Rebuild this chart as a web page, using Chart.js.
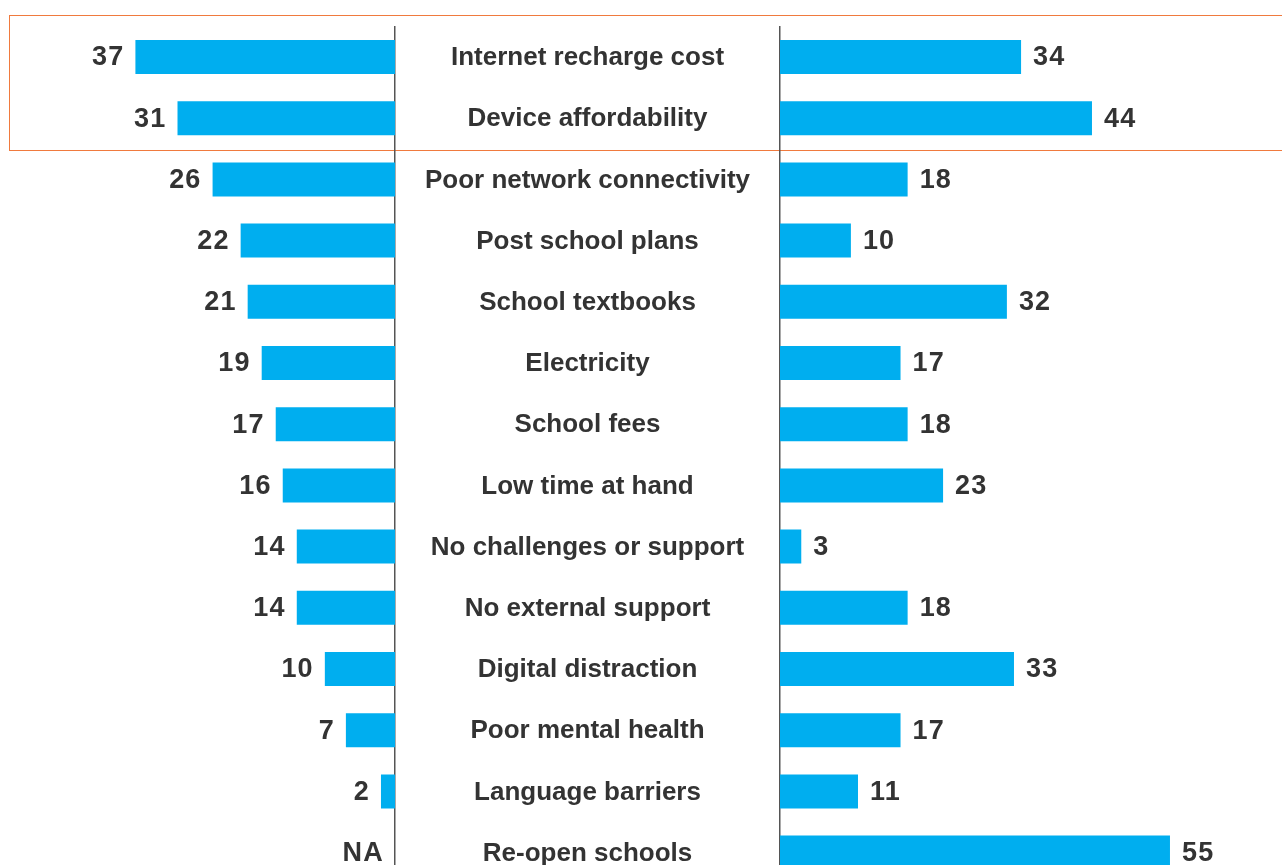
<!DOCTYPE html>
<html>
<head>
<meta charset="utf-8">
<script src="https://cdn.jsdelivr.net/npm/chart.js@4.4.1/dist/chart.umd.min.js"></script>
<style>
  html, body { margin: 0; padding: 0; background: #fff; overflow: hidden; }
  #wrap { position: relative; width: 1282px; height: 865px; overflow: hidden; }
  #highlight {
    position: absolute; left: 9px; top: 15px; width: 1300px; height: 136px;
    box-sizing: border-box; border: 1.5px solid #f07a3e;
  }
  canvas { position: absolute; top: 0; }
  #leftChart { left: 0; }
  #rightChart { left: 395px; }
</style>
</head>
<body>
<div id="wrap">
  <div id="highlight"></div>
  <canvas id="leftChart" width="397" height="900"></canvas>
  <canvas id="rightChart" width="887" height="900"></canvas>
</div>
<script>
const categories = [
  'Internet recharge cost',
  'Device affordability',
  'Poor network connectivity',
  'Post school plans',
  'School textbooks',
  'Electricity',
  'School fees',
  'Low time at hand',
  'No challenges or support',
  'No external support',
  'Digital distraction',
  'Poor mental health',
  'Language barriers',
  'Re-open schools'
];
// null = not asked (shown as NA)
const leftValues = [37, 31, 26, 22, 21, 19, 17, 16, 14, 14, 10, 7, 2, null];
const rightValues = [34, 44, 18, 10, 32, 17, 18, 23, 3, 18, 33, 17, 11, 55];

const BAR = '#00aeef';
const TEXT = '#333333';
const RULE = '#555555';
const FONT = '"Liberation Sans", Arial, Helvetica, sans-serif';
const PAD = { top: 26.4, bottom: 16.8 };

// numbers next to each bar end
const valueLabels = {
  id: 'valueLabels',
  afterDatasetsDraw(chart, args, opts) {
    const { ctx } = chart;
    const meta = chart.getDatasetMeta(0);
    const data = chart.data.datasets[0].data;
    const x = chart.scales.x;
    const y = chart.scales.y;
    ctx.save();
    ctx.font = 'bold 27px ' + FONT;
    ctx.letterSpacing = '1.2px';
    ctx.fillStyle = TEXT;
    ctx.textBaseline = 'middle';
    data.forEach((v, i) => {
      const text = v == null ? 'NA' : String(v);
      const cy = y.getPixelForValue(i) + 1;
      const end = v == null ? x.getPixelForValue(0) : meta.data[i].x;
      if (opts.side === 'left') {
        ctx.textAlign = 'right';
        ctx.fillText(text, end - 11, cy);
      } else {
        ctx.textAlign = 'left';
        ctx.fillText(text, end + 12, cy);
      }
    });
    ctx.restore();
  }
};

// category names centred in the gap between the two panels
const categoryLabels = {
  id: 'categoryLabels',
  afterDraw(chart) {
    const { ctx } = chart;
    const y = chart.scales.y;
    const cx = y.left + y.width / 2;
    ctx.save();
    ctx.font = 'bold 26px ' + FONT;
    ctx.fillStyle = TEXT;
    ctx.textAlign = 'center';
    ctx.textBaseline = 'middle';
    categories.forEach((c, i) => {
      ctx.fillText(c, cx, y.getPixelForValue(i) + 1);
    });
    ctx.restore();
  }
};

function panel(canvas, values, side) {
  const isLeft = side === 'left';
  return new Chart(canvas, {
    type: 'bar',
    data: {
      labels: categories,
      datasets: [{
        data: values,
        backgroundColor: BAR,
        borderWidth: 0,
        barPercentage: 0.556,
        categoryPercentage: 1
      }]
    },
    options: {
      indexAxis: 'y',
      responsive: false,
      animation: false,
      layout: { padding: { top: PAD.top, bottom: PAD.bottom, left: 0, right: isLeft ? 2 : 0 } },
      scales: {
        x: {
          display: false,
          min: 0,
          max: isLeft ? 56.3 : 70.8,
          reverse: isLeft
        },
        y: {
          position: isLeft ? 'right' : 'left',
          grid: { display: false, drawTicks: false },
          ticks: { display: false },
          border: { display: true, color: RULE, width: 1.5 },
          afterFit(scale) { scale.width = isLeft ? 0 : 385; }
        }
      },
      plugins: {
        legend: { display: false },
        tooltip: { enabled: false },
        valueLabels: { side: side }
      }
    },
    plugins: isLeft ? [valueLabels] : [valueLabels, categoryLabels]
  });
}

panel(document.getElementById('leftChart'), leftValues, 'left');
panel(document.getElementById('rightChart'), rightValues, 'right');
</script>
</body>
</html>
